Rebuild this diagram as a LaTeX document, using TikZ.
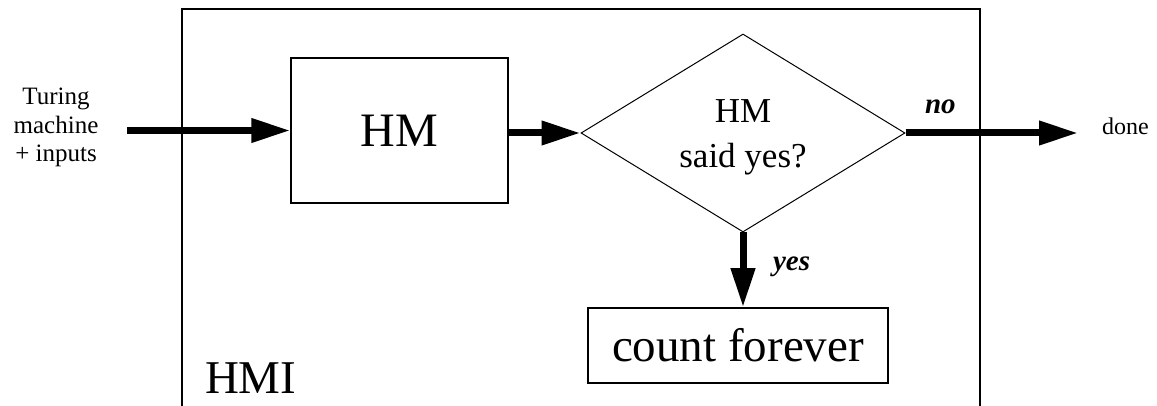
\documentclass[tikz,border=0pt]{standalone}
\usepackage{fontspec}
\setmainfont{Liberation Serif}
\usetikzlibrary{arrows.meta,shapes.geometric}
\tikzset{
  bigarrow/.style={line width=7pt,-{Triangle[length=39pt,width=23pt]}},
  boxnode/.style={draw,line width=1.5pt,inner sep=0pt},
  plain/.style={inner sep=0pt,outer sep=0pt},
  bigtext/.style={font=\fontsize{47}{56}\selectfont},
  lbl/.style={plain,font=\fontsize{29}{34}\selectfont\bfseries\itshape}
}
\begin{document}
\begin{tikzpicture}[x=1pt,y=-1pt]
\useasboundingbox[fill=white] (0,0) rectangle (1157,406);
% outer HMI box (open at the bottom)
\draw[line width=1.6pt] (182,406) -- (182,9) -- (980,9) -- (980,406);
\node[plain,bigtext,anchor=base west] (hmi) at (205,393) {HMI};
% HM box
\node[boxnode,minimum width=217pt,minimum height=145pt,font=\fontsize{48}{58}\selectfont] (hm) at (399.5,130.5) {HM};
% decision diamond
\node[diamond,draw,line width=1pt,inner sep=0pt,minimum width=324pt,minimum height=198pt] (d) at (743,133) {};
\node[plain,align=center,font=\fontsize{35}{45}\selectfont] (dtext) at (743,137) {HM\\said yes?};
% count forever box
\node[boxnode,bigtext,minimum width=300pt,minimum height=75pt] (cf) at (738,345.5) {count forever};
% input
\node[plain,align=center,font=\fontsize{25}{28.5}\selectfont] (in) at (56,127.5) {Turing\\machine\\+ inputs};
\coordinate (inStart) at (127,130.5);
\draw[bigarrow] (inStart) -- (hm.west);
% HM -> diamond
\draw[bigarrow] (hm.east |- d.west) -- (d.west);
% no -> done
\coordinate (doneTip) at (1078,133);
\draw[bigarrow] (d.east) -- (doneTip);
\node[plain,font=\fontsize{24}{29}\selectfont,anchor=base west] (done) at (1102,135) {done};
\node[lbl,anchor=base west] (no) at (925,114) {no};
% yes -> count forever
\draw[bigarrow] (d.south) -- (d.south |- cf.north);
\node[lbl,anchor=base west] (yes) at (773,270) {yes};
\end{tikzpicture}
\end{document}
